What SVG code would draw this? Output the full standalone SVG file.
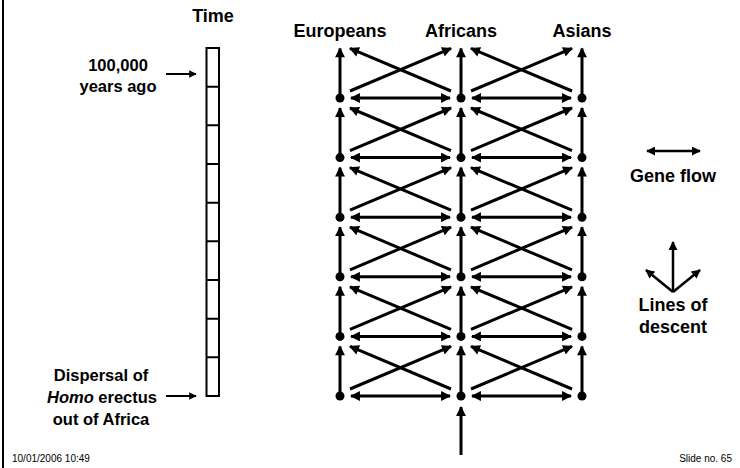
<svg xmlns="http://www.w3.org/2000/svg" width="740" height="468" viewBox="0 0 740 468">
<defs>
<style>
.t{font-family:"Liberation Sans",Arial,sans-serif;font-weight:bold;fill:#000;text-anchor:middle}
.h{font-size:18px}
.l{font-size:16.5px}
.f{font-family:"Liberation Sans",Arial,sans-serif;fill:#000;font-size:10px}
.c{stroke:#000;stroke-width:3;fill:none;marker-end:url(#ah)}
.d{stroke:#000;stroke-width:3;fill:none;marker-end:url(#ah);marker-start:url(#ah)}
.s{stroke:#000;stroke-width:2;fill:none;marker-end:url(#ah2)}
.g{stroke:#000;stroke-width:2.5;fill:none;marker-end:url(#ah3)}
.dot{fill:#000}
</style>
<marker id="ah" viewBox="0 0 10 10" refX="9" refY="5" markerWidth="3.5" markerHeight="3.3" orient="auto-start-reverse" markerUnits="strokeWidth"><path d="M0,0 L10,5 L0,10 z" fill="#000"/></marker>
<marker id="ah2" viewBox="0 0 10 10" refX="9" refY="5" markerWidth="4.2" markerHeight="3.8" orient="auto-start-reverse" markerUnits="strokeWidth"><path d="M0,0 L10,5 L0,10 z" fill="#000"/></marker>
<marker id="ah3" viewBox="0 0 10 10" refX="9" refY="5" markerWidth="3.8" markerHeight="3.6" orient="auto-start-reverse" markerUnits="strokeWidth"><path d="M0,0 L10,5 L0,10 z" fill="#000"/></marker>
</defs>
<rect width="740" height="468" fill="#fff"/>
<line x1="3" y1="0" x2="3" y2="468" stroke="#000" stroke-width="2"/>

<g id="labels">
<text class="t h" x="213" y="22">Time</text>
<text class="t h" x="340" y="37">Europeans</text>
<text class="t h" x="461" y="37">Africans</text>
<text class="t h" x="582" y="37">Asians</text>
<text class="t l" x="118" y="71">100,000</text>
<text class="t l" x="118" y="92">years ago</text>
<text class="t l" x="101" y="381">Dispersal of</text>
<text class="t l" x="102" y="403"><tspan font-style="italic">Homo</tspan> erectus</text>
<text class="t l" x="101" y="425">out of Africa</text>
<text class="t h" x="673" y="182">Gene flow</text>
<text class="t h" x="673" y="311">Lines of</text>
<text class="t h" x="673" y="333">descent</text>
<text class="f" x="12" y="462">10/01/2006 10:49</text>
<text class="f" x="732" y="462" text-anchor="end" font-size="12">Slide no. 65</text>
</g>

<g id="timeline" fill="none" stroke="#000" stroke-width="2">
<rect x="206.5" y="48" width="12.5" height="348"/>
<path d="M206.5,86.7H219 M206.5,125.3H219 M206.5,164H219 M206.5,202.7H219 M206.5,241.3H219 M206.5,280H219 M206.5,318.7H219 M206.5,357.3H219"/>
</g>
<g id="timeline-arrows">
<line class="s" x1="166" y1="74" x2="196" y2="74"/>
<line class="s" x1="166" y1="396" x2="196" y2="396"/>
</g>

<g id="legend">
<line class="g" x1="647" y1="151" x2="700" y2="151" marker-start="url(#ah3)"/>
<line class="g" x1="673" y1="292" x2="673" y2="242"/>
<line class="g" x1="673" y1="292" x2="646" y2="270"/>
<line class="g" x1="673" y1="292" x2="700" y2="270"/>
</g>

<g id="connectors">
<path class="c" d="M340,98V48.4"/><path class="c" d="M461,98V48.4"/><path class="c" d="M582,98V48.4"/>
<path class="c" d="M340,157.6V108"/><path class="c" d="M461,157.6V108"/><path class="c" d="M582,157.6V108"/>
<path class="c" d="M340,217.2V167.6"/><path class="c" d="M461,217.2V167.6"/><path class="c" d="M582,217.2V167.6"/>
<path class="c" d="M340,276.8V227.2"/><path class="c" d="M461,276.8V227.2"/><path class="c" d="M582,276.8V227.2"/>
<path class="c" d="M340,336.4V286.8"/><path class="c" d="M461,336.4V286.8"/><path class="c" d="M582,336.4V286.8"/>
<path class="c" d="M340,396V346.4"/><path class="c" d="M461,396V346.4"/><path class="c" d="M582,396V346.4"/>
<path class="c" d="M461,455V407"/>
<path class="c" d="M350,91L451,48.4"/><path class="c" d="M451,91L350,48.4"/>
<path class="c" d="M471,91L572,48.4"/><path class="c" d="M572,91L471,48.4"/>
<path class="c" d="M350,150.6L451,108"/><path class="c" d="M451,150.6L350,108"/>
<path class="c" d="M471,150.6L572,108"/><path class="c" d="M572,150.6L471,108"/>
<path class="c" d="M350,210.2L451,167.6"/><path class="c" d="M451,210.2L350,167.6"/>
<path class="c" d="M471,210.2L572,167.6"/><path class="c" d="M572,210.2L471,167.6"/>
<path class="c" d="M350,269.8L451,227.2"/><path class="c" d="M451,269.8L350,227.2"/>
<path class="c" d="M471,269.8L572,227.2"/><path class="c" d="M572,269.8L471,227.2"/>
<path class="c" d="M350,329.4L451,286.8"/><path class="c" d="M451,329.4L350,286.8"/>
<path class="c" d="M471,329.4L572,286.8"/><path class="c" d="M572,329.4L471,286.8"/>
<path class="c" d="M350,389L451,346.4"/><path class="c" d="M451,389L350,346.4"/>
<path class="c" d="M471,389L572,346.4"/><path class="c" d="M572,389L471,346.4"/>
<path class="d" d="M351,98H450"/><path class="d" d="M472,98H571"/>
<path class="d" d="M351,157.6H450"/><path class="d" d="M472,157.6H571"/>
<path class="d" d="M351,217.2H450"/><path class="d" d="M472,217.2H571"/>
<path class="d" d="M351,276.8H450"/><path class="d" d="M472,276.8H571"/>
<path class="d" d="M351,336.4H450"/><path class="d" d="M472,336.4H571"/>
<path class="d" d="M351,396H450"/><path class="d" d="M472,396H571"/>
</g>

<g id="nodes">
<g id="eu-1"><circle class="dot" cx="340" cy="98" r="4.5"/></g>
<g id="af-1"><circle class="dot" cx="461" cy="98" r="4.5"/></g>
<g id="as-1"><circle class="dot" cx="582" cy="98" r="4.5"/></g>
<g id="eu-2"><circle class="dot" cx="340" cy="157.6" r="4.5"/></g>
<g id="af-2"><circle class="dot" cx="461" cy="157.6" r="4.5"/></g>
<g id="as-2"><circle class="dot" cx="582" cy="157.6" r="4.5"/></g>
<g id="eu-3"><circle class="dot" cx="340" cy="217.2" r="4.5"/></g>
<g id="af-3"><circle class="dot" cx="461" cy="217.2" r="4.5"/></g>
<g id="as-3"><circle class="dot" cx="582" cy="217.2" r="4.5"/></g>
<g id="eu-4"><circle class="dot" cx="340" cy="276.8" r="4.5"/></g>
<g id="af-4"><circle class="dot" cx="461" cy="276.8" r="4.5"/></g>
<g id="as-4"><circle class="dot" cx="582" cy="276.8" r="4.5"/></g>
<g id="eu-5"><circle class="dot" cx="340" cy="336.4" r="4.5"/></g>
<g id="af-5"><circle class="dot" cx="461" cy="336.4" r="4.5"/></g>
<g id="as-5"><circle class="dot" cx="582" cy="336.4" r="4.5"/></g>
<g id="eu-6"><circle class="dot" cx="340" cy="396" r="4.5"/></g>
<g id="af-6"><circle class="dot" cx="461" cy="396" r="4.5"/></g>
<g id="as-6"><circle class="dot" cx="582" cy="396" r="4.5"/></g>
</g>
</svg>
